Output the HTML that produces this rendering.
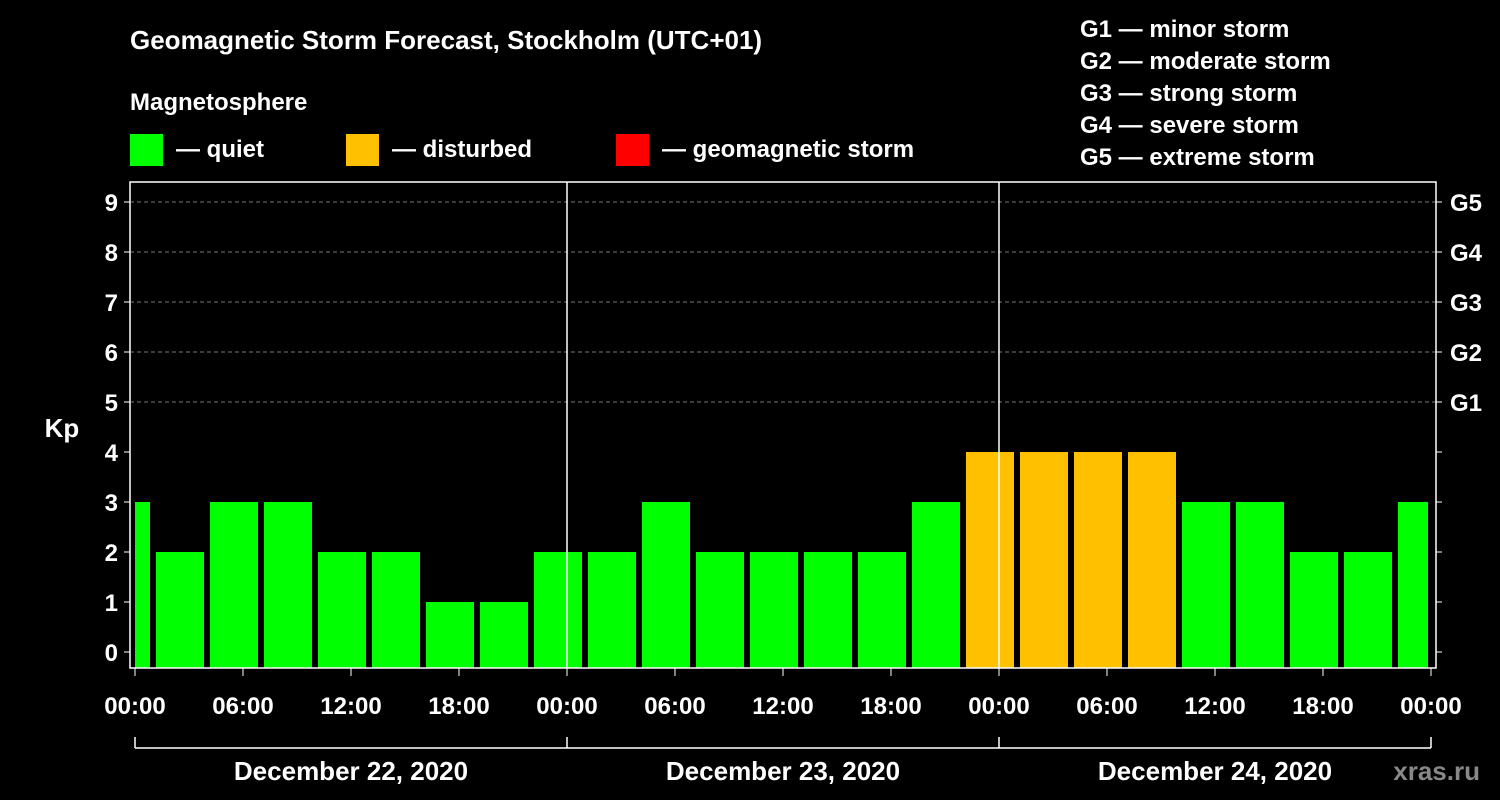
<!DOCTYPE html>
<html><head><meta charset="utf-8"><style>
body{margin:0;background:#000;}
svg{display:block;font-family:"Liberation Sans",Arial,sans-serif;font-weight:bold;}
</style></head><body>
<svg id="chart" width="1500" height="800" viewBox="0 0 1500 800">
<rect width="1500" height="800" fill="#000"/>
<text x="130" y="49" fill="#fff" font-size="26">Geomagnetic Storm Forecast, Stockholm (UTC+01)</text>
<text x="130" y="110" fill="#fff" font-size="24">Magnetosphere</text>
<g><rect x="130" y="134" width="33" height="32" fill="#00ff00"/><text x="176" y="157" fill="#fff" font-size="24">— quiet</text></g>
<g><rect x="346" y="134" width="33" height="32" fill="#ffc000"/><text x="392" y="157" fill="#fff" font-size="24">— disturbed</text></g>
<g><rect x="616" y="134" width="33" height="32" fill="#ff0000"/><text x="662" y="157" fill="#fff" font-size="24">— geomagnetic storm</text></g>
<g fill="#fff" font-size="24">
<text x="1080" y="37">G1 — minor storm</text>
<text x="1080" y="69">G2 — moderate storm</text>
<text x="1080" y="101">G3 — strong storm</text>
<text x="1080" y="133">G4 — severe storm</text>
<text x="1080" y="165">G5 — extreme storm</text>
</g>
<g id="grid"></g><g id="bars"></g><g id="axes"></g>
<text x="62" y="437" fill="#fff" font-size="26" text-anchor="middle">Kp</text>
<text x="1480" y="780" fill="#888" font-size="26" text-anchor="end">xras.ru</text>
</svg>
<script>
const kpValues=[3,2,3,3,2,2,1,1,2,2,3,2,2,2,2,3,4,4,4,4,3,3,2,2,3];
const barStartHours=[-2,1,4,7,10,13,16,19,22,25,28,31,34,37,40,43,46,49,52,55,58,61,64,67,70];
const xTickLabels=["00:00","06:00","12:00","18:00","00:00","06:00","12:00","18:00","00:00","06:00","12:00","18:00","00:00"];
const dayLabels=["December 22, 2020","December 23, 2020","December 24, 2020"];
const gLabels=["G1","G2","G3","G4","G5"];
const NS="http://www.w3.org/2000/svg";
const X0=135,PXH=18,Y0=652,PXK=50,TOTAL=72;
const x=h=>X0+Math.max(0,Math.min(TOTAL,h))*PXH;
const y=k=>Y0-k*PXK;
function mk(t,a,p){const e=document.createElementNS(NS,t);for(const k in a)e.setAttribute(k,a[k]);p.appendChild(e);return e;}
const grid=document.getElementById('grid'),bars=document.getElementById('bars'),axes=document.getElementById('axes');
for(let k=5;k<=9;k++){const l=mk('line',{x1:130,x2:1436,y1:y(k),y2:y(k),stroke:'#777','stroke-dasharray':'4,3'},grid);

}
kpValues.forEach((v,i)=>{const s=barStartHours[i],e=s+3;
let a=x(s)+(s>=0?3:0),b=x(e)-(e<=TOTAL?3:3);
const c=v>=5?'#ff0000':(v>=4?'#ffc000':'#00ff00');
const r=mk('rect',{x:a,y:y(v),width:b-a,height:668-y(v),fill:c},bars);

});
const f=mk('rect',{x:130,y:182,width:1306,height:486,fill:'none',stroke:'#fff','stroke-width':1.5},axes);


[24,48].forEach(h=>{const l=mk('line',{x1:x(h),x2:x(h),y1:182,y2:668,stroke:'#fff','stroke-width':1.5},axes);

});
for(let k=0;k<=9;k++){mk('line',{x1:124,x2:130,y1:y(k),y2:y(k),stroke:'#fff'},axes);mk('line',{x1:1436,x2:1442,y1:y(k),y2:y(k),stroke:'#fff'},axes);
const t=mk('text',{x:118,y:y(k)+9,fill:'#fff','font-size':24,'text-anchor':'end'},axes);t.textContent=k;

}
gLabels.forEach((g,i)=>{const t=mk('text',{x:1450,y:y(5+i)+9,fill:'#fff','font-size':24},axes);t.textContent=g;

});
xTickLabels.forEach((s,i)=>{const xx=x(i*6);mk('line',{x1:xx,x2:xx,y1:668,y2:676,stroke:'#fff'},axes);
const t=mk('text',{x:xx,y:714,fill:'#fff','font-size':24,'text-anchor':'middle'},axes);t.textContent=s;

});
mk('line',{x1:x(0),x2:x(72),y1:748,y2:748,stroke:'#fff','stroke-width':1.5},axes);
[0,24,48,72].forEach(h=>mk('line',{x1:x(h),x2:x(h),y1:737,y2:748,stroke:'#fff','stroke-width':1.5},axes));
dayLabels.forEach((d,i)=>{const t=mk('text',{x:x(i*24+12),y:780,fill:'#fff','font-size':26,'text-anchor':'middle'},axes);t.textContent=d;

});
</script>
</body></html>
